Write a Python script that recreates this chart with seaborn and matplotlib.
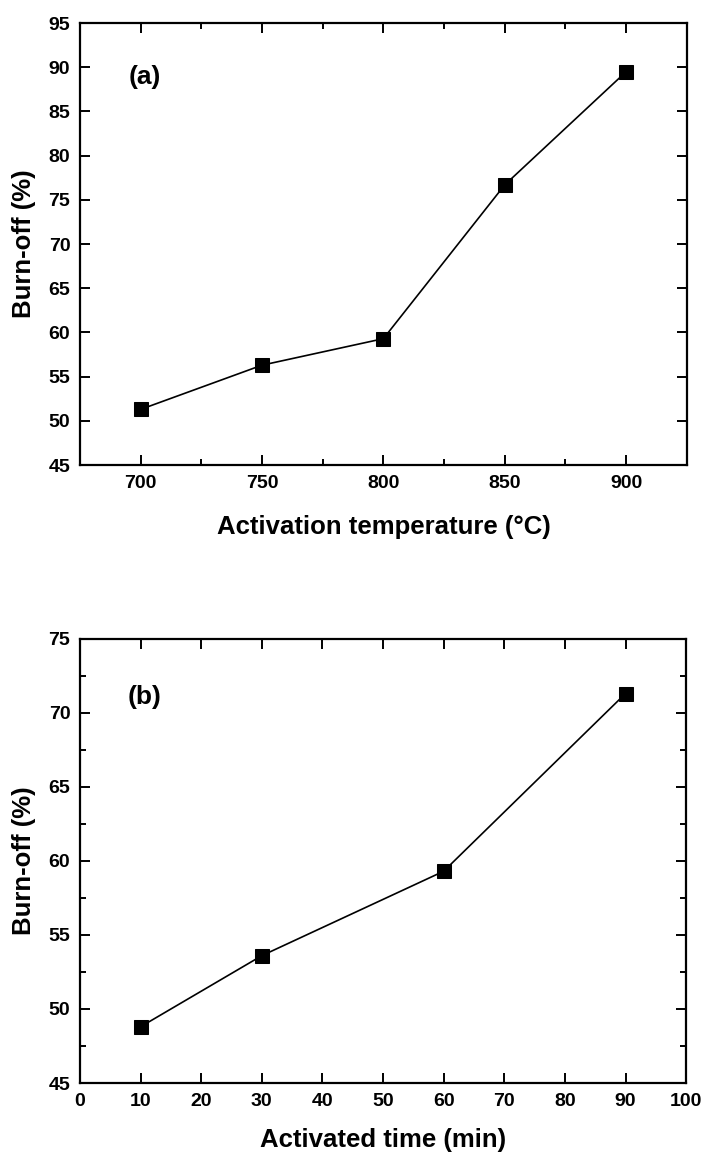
import numpy as np
import pandas as pd
import seaborn as sns
import matplotlib.pyplot as plt
from matplotlib.ticker import MultipleLocator

# panel (a): burn-off vs activation temperature
temperature = [700, 750, 800, 850, 900]
burnoff_temp = [51.3, 56.3, 59.3, 76.7, 89.5]

# panel (b): burn-off vs activation time
act_time = [10, 30, 60, 90]
burnoff_time = [48.8, 53.6, 59.3, 71.3]

sns.set_style("ticks", {'text.color': 'black', 'axes.labelcolor': 'black',
                        'xtick.color': 'black', 'ytick.color': 'black',
                        'axes.edgecolor': 'black'})
plt.rcParams['font.family'] = ['Liberation Sans', 'DejaVu Sans']
plt.rcParams['font.weight'] = 'bold'
plt.rcParams['axes.labelweight'] = 'bold'

fig = plt.figure(figsize=(7.04, 11.54), dpi=100)
ax_a = fig.add_axes([0.1136, 0.597, 0.862, 0.383])
ax_b = fig.add_axes([0.1136, 0.0615, 0.861, 0.385])

df_a = pd.DataFrame({'x': temperature, 'y': burnoff_temp})
df_b = pd.DataFrame({'x': act_time, 'y': burnoff_time})

for ax, df in [(ax_a, df_a), (ax_b, df_b)]:
    sns.lineplot(data=df, x='x', y='y', ax=ax, color='black', linewidth=1.2,
                 marker='s', markersize=9.5, markeredgecolor='black')
    for side in ['top', 'right', 'bottom', 'left']:
        ax.spines[side].set_visible(True)
        ax.spines[side].set_linewidth(1.6)
        ax.spines[side].set_color('black')
    ax.tick_params(which='both', direction='in', top=True, right=True,
                   width=1.4, labelsize=14, pad=7, colors='black')
    ax.tick_params(which='major', length=7)
    ax.tick_params(which='minor', length=4)

ax_a.set_xlim(675, 925)
ax_a.set_ylim(45, 95)
ax_a.xaxis.set_major_locator(MultipleLocator(50))
ax_a.xaxis.set_minor_locator(MultipleLocator(25))
ax_a.yaxis.set_major_locator(MultipleLocator(5))
ax_a.set_xlabel('Activation temperature (\u00b0C)', fontsize=18.5, labelpad=17)
ax_a.set_ylabel('Burn-off (%)', fontsize=18.5, labelpad=9)
ax_a.text(0.107, 0.878, '(a)', transform=ax_a.transAxes, fontsize=19,
          fontweight='bold', ha='center', va='center')

ax_b.set_xlim(0, 100)
ax_b.set_ylim(45, 75)
ax_b.xaxis.set_major_locator(MultipleLocator(10))
ax_b.yaxis.set_major_locator(MultipleLocator(5))
ax_b.yaxis.set_minor_locator(MultipleLocator(2.5))
ax_b.set_xlabel('Activated time (min)', fontsize=18.5, labelpad=13)
ax_b.set_ylabel('Burn-off (%)', fontsize=18.5, labelpad=9)
ax_b.text(0.107, 0.869, '(b)', transform=ax_b.transAxes, fontsize=19,
          fontweight='bold', ha='center', va='center')

for ax in (ax_a, ax_b):
    for lab in ax.get_xticklabels() + ax.get_yticklabels():
        lab.set_fontweight('bold')

fig.savefig('out.png', dpi=100, facecolor='white')
